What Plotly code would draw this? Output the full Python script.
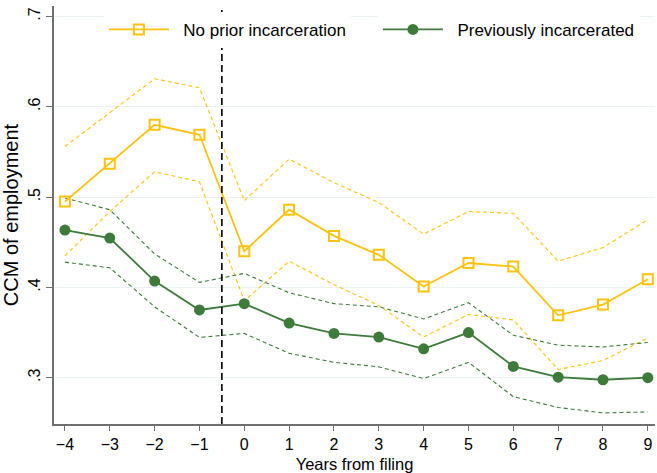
import plotly.graph_objects as go

# years relative to bankruptcy filing
years = [-4, -3, -2, -1, 0, 1, 2, 3, 4, 5, 6, 7, 8, 9]

# no prior incarceration: estimate and 95% band
no_prior = [0.495, 0.537, 0.580, 0.569, 0.440, 0.486, 0.457, 0.436, 0.401, 0.427, 0.423, 0.369, 0.381, 0.409]
no_prior_hi = [0.556, 0.594, 0.631, 0.621, 0.496, 0.542, 0.516, 0.494, 0.459, 0.484, 0.482, 0.429, 0.444, 0.475]
no_prior_lo = [0.435, 0.484, 0.528, 0.517, 0.385, 0.429, 0.403, 0.380, 0.345, 0.370, 0.364, 0.309, 0.319, 0.344]

# previously incarcerated: estimate and 95% band
prev_inc = [0.4635, 0.4546, 0.407, 0.375, 0.382, 0.3605, 0.349, 0.345, 0.332, 0.350, 0.3125, 0.3006, 0.2977, 0.300]
prev_inc_hi = [0.499, 0.486, 0.437, 0.4055, 0.4155, 0.394, 0.382, 0.3785, 0.365, 0.383, 0.347, 0.336, 0.334, 0.339]
prev_inc_lo = [0.428, 0.4217, 0.3785, 0.3446, 0.349, 0.327, 0.317, 0.312, 0.299, 0.317, 0.279, 0.267, 0.261, 0.262]

ytick_vals = [0.3, 0.4, 0.5, 0.6, 0.7]
ytick_text = [".3", ".4", ".5", ".6", ".7"]

GOLD = "#FFC20E"
GREEN = "#3E7B3A"
NBSP = "\u00a0\u00a0"

fig = go.Figure()

# confidence bands (dashed, no legend)
for ys, col in [(no_prior_hi, GOLD), (no_prior_lo, GOLD), (prev_inc_hi, GREEN), (prev_inc_lo, GREEN)]:
    fig.add_trace(go.Scatter(x=years, y=ys, mode="lines", showlegend=False, hoverinfo="skip",
                             line=dict(color=col, width=1.1, dash="4px,3px")))

fig.add_trace(go.Scatter(x=years, y=no_prior, mode="lines+markers", name=NBSP + "No prior incarceration",
                         legend="legend",
                         line=dict(color=GOLD, width=1.8),
                         marker=dict(symbol="square-open", size=10, color=GOLD, line=dict(width=2, color=GOLD))))
fig.add_trace(go.Scatter(x=years, y=prev_inc, mode="lines+markers", name=NBSP + "Previously incarcerated",
                         legend="legend2",
                         line=dict(color=GREEN, width=1.8),
                         marker=dict(symbol="circle", size=11, color=GREEN)))

# filing date marker
fig.add_vline(x=-0.5, line=dict(color="black", width=1.6, dash="7px,4px"))

leg = dict(y=0.986, xanchor="left", yanchor="top", bgcolor="white",
           itemwidth=60, font=dict(size=17))

fig.update_layout(
    width=657, height=473,
    margin=dict(l=54, r=2, t=6, b=49),
    paper_bgcolor="white", plot_bgcolor="white",
    font=dict(family="Liberation Sans, Arial, sans-serif", size=17, color="black"),
    showlegend=True,
    legend=dict(x=0.083, **leg),
    legend2=dict(x=0.539, **leg),
)

fig.update_xaxes(range=[-4.244, 9.16], tickvals=years, ticks="outside", ticklen=5,
                 tickcolor="#707070", showline=True, linecolor="#707070", linewidth=1.5,
                 showgrid=False, zeroline=False, tickfont=dict(size=16),
                 title=dict(text="Years from filing", standoff=6, font=dict(size=16.5)))
fig.update_yaxes(range=[0.2487, 0.7116], tickvals=ytick_vals, ticktext=ytick_text,
                 tickangle=-90, ticks="outside", ticklen=6, tickcolor="#707070",
                 showline=True, linecolor="#707070", linewidth=1.5,
                 showgrid=True, gridcolor="#EAF2F3", gridwidth=1.2, zeroline=False,
                 tickfont=dict(size=16),
                 title=dict(text="CCM of employment", standoff=4))

# drop the default page margin so the figure sits at the window's corner
fig.write_html("out.html", config={"displayModeBar": False},
               post_script="document.body.style.margin='0';")
